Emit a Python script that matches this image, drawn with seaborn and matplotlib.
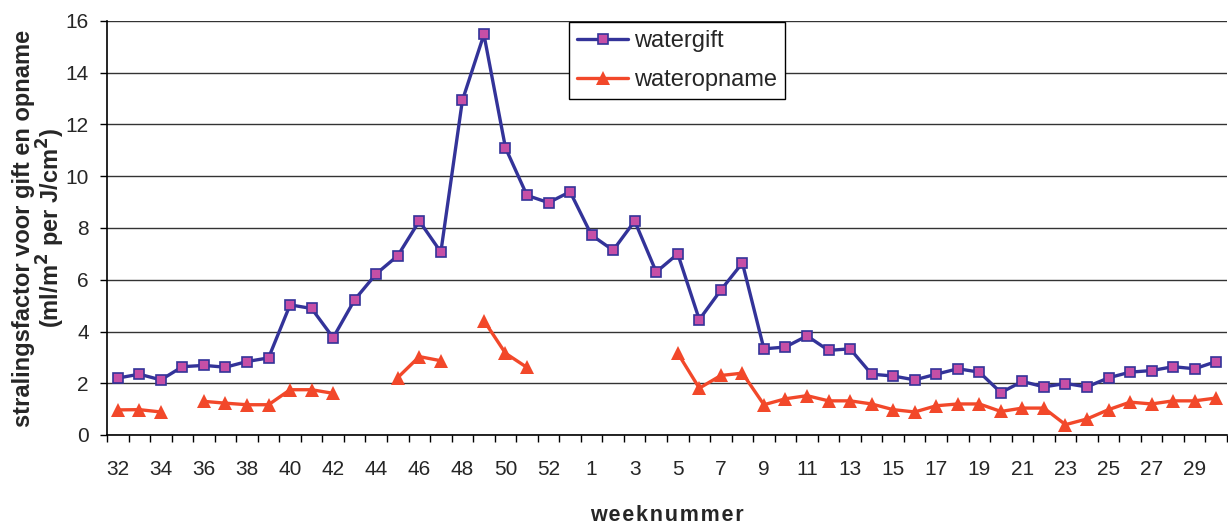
import numpy as np
import pandas as pd
import seaborn as sns
import matplotlib
matplotlib.use("Agg")
import matplotlib.pyplot as plt
from matplotlib.ticker import FixedLocator, NullFormatter
from matplotlib.lines import Line2D

weeks = [32, 33, 34, 35, 36, 37, 38, 39, 40, 41, 42, 43, 44, 45, 46, 47, 48, 49, 50, 51, 52, 53,
         1, 2, 3, 4, 5, 6, 7, 8, 9, 10, 11, 12, 13, 14, 15, 16, 17, 18, 19, 20, 21, 22, 23, 24,
         25, 26, 27, 28, 29, 30]

watergift = [2.2, 2.35, 2.13, 2.64, 2.69, 2.62, 2.84, 2.98, 5.03, 4.89, 3.76, 5.23, 6.23, 6.93,
             8.27, 7.07, 12.93, 15.48, 11.1, 9.26, 8.98, 9.4,
             7.72, 7.14, 8.27, 6.30, 7.0, 4.46, 5.6, 6.65, 3.33, 3.40, 3.83, 3.27, 3.33, 2.35,
             2.28, 2.13, 2.35, 2.56, 2.43, 1.64, 2.07, 1.86, 1.99, 1.86, 2.21, 2.43, 2.49, 2.64,
             2.56, 2.84]

nan = np.nan
wateropname = [0.97, 0.98, 0.89, nan, 1.30, 1.23, 1.17, 1.17, 1.75, 1.75, 1.61, nan, nan, 2.22,
               3.03, 2.87, nan, 4.42, 3.16, 2.61, nan, nan,
               nan, nan, nan, nan, 3.16, 1.81, 2.30, 2.39, 1.17, 1.40, 1.52, 1.32, 1.32, 1.20,
               0.98, 0.89, 1.13, 1.20, 1.20, 0.91, 1.04, 1.04, 0.40, 0.62, 0.98, 1.27, 1.20, 1.32,
               1.32, 1.43]

series_names = ["watergift", "wateropname"]

idx = np.arange(len(weeks))
df_gift = pd.DataFrame({"idx": idx, "val": watergift, "seg": 0})
opn = np.array(wateropname, dtype=float)
seg = np.cumsum(np.isnan(opn))
df_opn = pd.DataFrame({"idx": idx, "val": opn, "seg": seg}).dropna()

sns.set_style("white")
plt.rcParams["font.family"] = ["Liberation Sans", "DejaVu Sans"]

fig = plt.figure(figsize=(12.28, 5.24), dpi=100)
ax = fig.add_axes([107 / 1228, 1 - 435 / 524, 1120 / 1228, (435 - 21) / 524])

blue = "#333399"
pink = "#C64FA6"
red = "#F2482A"

gift_style = dict(color=blue, lw=2.4, marker="s", markersize=7.5,
                  markerfacecolor=pink, markeredgecolor=blue, markeredgewidth=1.2)
opn_style = dict(color=red, lw=2.4, marker="^", markersize=9.5,
                 markerfacecolor=red, markeredgecolor=red, markeredgewidth=0)

sns.lineplot(data=df_gift, x="idx", y="val", units="seg", estimator=None, ax=ax,
             legend=False, zorder=3, **gift_style)
sns.lineplot(data=df_opn, x="idx", y="val", units="seg", estimator=None, ax=ax,
             legend=False, zorder=3, **opn_style)

ax.set_xlim(-0.5, len(weeks) - 0.5)
ax.set_ylim(0, 16)
ax.set_yticks(np.arange(0, 17, 2))
ax.yaxis.grid(True, color="#333333", lw=1.0)
ax.set_axisbelow(True)

ax.set_xticks(idx[::2])
ax.set_xticklabels([str(w) for w in weeks[::2]])
ax.tick_params(axis="x", which="major", length=0, pad=18, labelsize=15)
ax.xaxis.set_minor_locator(FixedLocator(np.arange(-0.5, len(weeks), 1.0)))
ax.xaxis.set_minor_formatter(NullFormatter())
ax.tick_params(axis="x", which="minor", length=5, width=1, direction="out", bottom=True,
               color="black")
ax.tick_params(axis="y", length=5, width=1, direction="out", left=True, labelsize=15,
               color="black", pad=8)

for s in ["top", "right"]:
    ax.spines[s].set_visible(False)
for s in ["left", "bottom"]:
    ax.spines[s].set_color("black")
    ax.spines[s].set_linewidth(1.2)

ax.set_xlabel("\u200a".join("weeknummer"), fontsize=15.5, fontweight="bold", labelpad=19)
ax.set_ylabel("stralingsfactor voor gift en opname\n(ml/m$^{\\mathbf{2}}$ per J/cm$^{\\mathbf{2}}$)",
              fontsize=17, fontweight="bold", labelpad=-1, linespacing=1.0)

handles = [Line2D([], [], **gift_style), Line2D([], [], **opn_style)]
leg = ax.legend(handles, series_names, loc="upper left",
                bbox_to_anchor=(569 / 1228, 1 - 22 / 524),
                bbox_transform=fig.transFigure, borderaxespad=0, frameon=True,
                fancybox=False, edgecolor="black", fontsize=17, handlelength=2.15,
                labelspacing=0.7, borderpad=0.35, handletextpad=0.25)
leg.get_frame().set_linewidth(1.0)
leg.get_frame().set_alpha(1)

fig.savefig("out.png", dpi=100, facecolor="white")
